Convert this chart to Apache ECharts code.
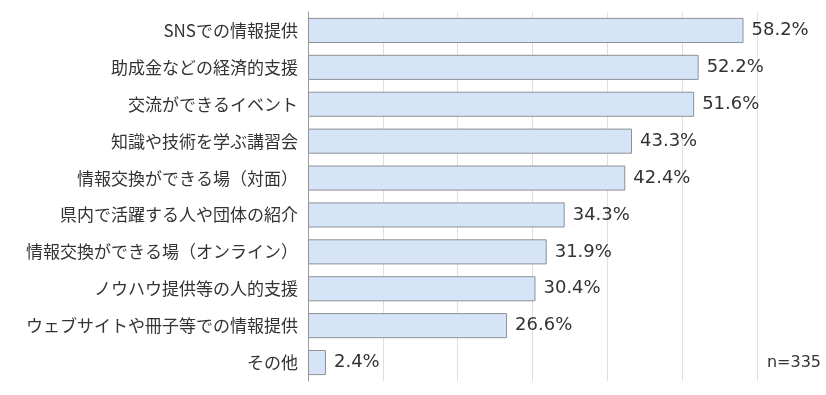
<!DOCTYPE html>
<html>
<head>
<meta charset="utf-8">
<script src="https://cdn.jsdelivr.net/npm/echarts@6/dist/echarts.min.js"></script>
<style>html,body{margin:0;padding:0;background:#fff}#c{width:826px;height:395px}</style>
</head>
<body>
<div id="c"></div>
<script>
const categories = [
  'SNSでの情報提供',
  '助成金などの経済的支援',
  '交流ができるイベント',
  '知識や技術を学ぶ講習会',
  '情報交換ができる場（対面）',
  '県内で活躍する人や団体の紹介',
  '情報交換ができる場（オンライン）',
  'ノウハウ提供等の人的支援',
  'ウェブサイトや冊子等での情報提供',
  'その他'
];
const values = [58.2, 52.2, 51.6, 43.3, 42.4, 34.3, 31.9, 30.4, 26.6, 2.4];
const sampleNote = 'n=335';

const chart = echarts.init(document.getElementById('c'), null, {renderer: 'canvas'});
chart.setOption({
  animation: false,
  backgroundColor: '#ffffff',
  grid: {left: 308, right: 69, top: 12, bottom: 14, containLabel: false},
  xAxis: {
    type: 'value', min: 0, max: 60, interval: 10,
    axisLabel: {show: false}, axisTick: {show: false}, axisLine: {show: false},
    splitLine: {show: true, lineStyle: {color: '#e2dede', width: 1}}
  },
  yAxis: {
    type: 'category', data: categories, inverse: true,
    axisLine: {show: true, lineStyle: {color: '#9a9a9a', width: 1}},
    axisTick: {show: false},
    axisLabel: {margin: 10, color: '#333333', fontSize: 17, fontFamily: 'Noto Sans CJK JP'}
  },
  series: [{
    type: 'bar', data: values, barCategoryGap: '32%',
    itemStyle: {color: '#d6e4f8', borderColor: '#8e9196', borderWidth: 1},
    label: {show: true, position: 'right', distance: 8, formatter: p => p.value.toFixed(1) + '%',
      color: '#333333', fontSize: 18, fontFamily: 'DejaVu Sans'}
  }],
  graphic: [{
    type: 'text', right: 5, top: 355,
    style: {text: sampleNote, fill: '#333333', fontSize: 16, fontFamily: 'DejaVu Sans'}
  }]
});
</script>
</body>
</html>
